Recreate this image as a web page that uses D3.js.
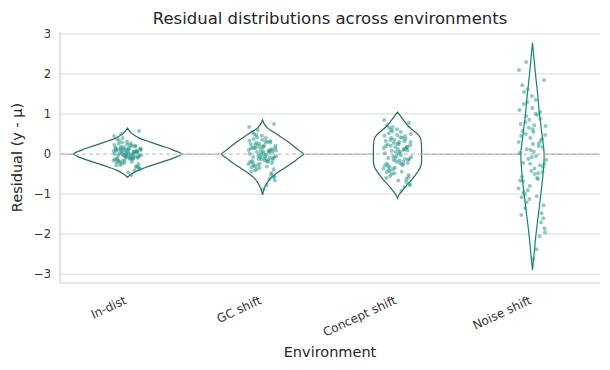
<!DOCTYPE html>
<html>
<head>
<meta charset="utf-8">
<script src="https://cdn.jsdelivr.net/npm/d3@7"></script>
<style>
  body { margin: 0; background: #fff; }
  text { font-family: "DejaVu Sans", sans-serif; }
</style>
</head>
<body>
<svg id="chart" width="610" height="370"></svg>
<script>
// categories + tick labels
const environments = ["In-dist", "GC shift", "Concept shift", "Noise shift"];
const yTicks = [-3, -2, -1, 0, 1, 2, 3];

// violin outlines: residual level -> half density
const violinLevels = {
  "In-dist": [0.65, 0.55, 0.45, 0.4, 0.3, 0.2, 0.1, 0, -0.1, -0.2, -0.3, -0.4, -0.5, -0.58],
  "GC shift": [0.85, 0.75, 0.65, 0.52, 0.4, 0.3, 0.2, 0.1, 0, -0.1, -0.2, -0.3, -0.4, -0.5, -0.6, -0.7, -0.85, -1.02],
  "Concept shift": [1.05, 0.95, 0.85, 0.72, 0.6, 0.5, 0.4, 0.2, 0, -0.2, -0.33, -0.45, -0.55, -0.65, -0.75, -0.9, -1.0, -1.1],
  "Noise shift": [2.78, 2.5, 2.0, 1.5, 1.0, 0.5, 0, -0.5, -1.0, -1.5, -2.0, -2.5, -2.9]
};
const violinDensity = {
  "In-dist": [0, 0.11, 0.30, 0.44, 0.85, 1.28, 1.70, 2.00, 1.70, 1.26, 0.81, 0.41, 0.15, 0],
  "GC shift": [0, 0.07, 0.19, 0.48, 0.74, 0.96, 1.15, 1.33, 1.52, 1.33, 1.15, 0.93, 0.70, 0.48, 0.30, 0.19, 0.07, 0],
  "Concept shift": [0, 0.11, 0.22, 0.37, 0.56, 0.74, 0.85, 0.89, 0.89, 0.89, 0.85, 0.74, 0.63, 0.52, 0.37, 0.19, 0.07, 0],
  "Noise shift": [0, 0.04, 0.11, 0.19, 0.26, 0.35, 0.43, 0.39, 0.31, 0.22, 0.13, 0.06, 0]
};

// residual samples (strip points)
const residInDist = [0.02,-0.05,0.11,-0.14,0.21,-0.22,0.07,-0.01,0.15,-0.09,0.31,-0.28,0.04,-0.17,0.12,-0.06,0.26,-0.33,0.09,0.00,-0.11,0.18,-0.25,0.05,0.38,-0.41,0.13,-0.03,0.22,-0.19,0.08,-0.08,0.16,-0.12,0.29,-0.36,0.01,-0.04,0.19,-0.15,0.45,-0.52,0.10,-0.07,0.24,-0.21,0.06,-0.02,0.14,-0.10,0.34,-0.30,0.03,-0.13,0.20,-0.24,0.58,-0.46,0.11,-0.06,0.17,-0.16,0.27,-0.27,0.03,-0.01,0.09,-0.09,0.40,-0.38,0.15,-0.18,0.07,-0.05,0.23,-0.20,0.50,-0.32,0.12,-0.11,0.04,-0.03,0.10,-0.12,0.02,0.06,-0.07,0.13,-0.02,0.08];
const residGC = [0.05,-0.08,0.18,-0.21,0.33,-0.35,0.10,-0.02,0.24,-0.15,0.46,-0.44,0.07,-0.27,0.15,-0.11,0.38,-0.52,0.13,0.01,-0.18,0.28,-0.38,0.08,0.55,-0.62,0.20,-0.05,0.31,-0.30,0.12,-0.13,0.25,-0.19,0.42,-0.56,0.02,-0.07,0.29,-0.24,0.68,-0.78,0.16,-0.10,0.36,-0.33,0.09,-0.04,0.21,-0.16,0.50,-0.47,0.04,-0.20,0.30,-0.37,0.75,-0.88,0.17,-0.09,0.26,-0.25,0.40,-0.41,0.06,-0.03,0.14,-0.14,0.60,-0.66,0.22,-0.28,0.11,-0.08,0.34,-0.31,0.48,-0.58,0.19,-0.17,0.03,-0.12,0.09,-0.06,0.15,-0.22];
const residConcept = [0.08,-0.12,0.25,-0.30,0.45,-0.48,0.15,-0.03,0.35,-0.22,0.62,-0.60,0.10,-0.38,0.22,-0.16,0.52,-0.70,0.18,0.02,-0.26,0.40,-0.52,0.12,0.72,-0.82,0.28,-0.07,0.42,-0.42,0.17,-0.19,0.33,-0.27,0.57,-0.74,0.03,-0.10,0.38,-0.34,0.85,-0.92,0.21,-0.14,0.48,-0.45,0.13,-0.06,0.30,-0.22,0.66,-0.62,0.05,-0.28,0.41,-0.50,0.78,-0.66,0.24,-0.12,0.36,-0.36,0.55,-0.55,0.09,-0.04,0.20,-0.20,0.68,-0.78,0.30,-0.40,0.14,-0.10,0.46,-0.44,0.60,-0.58,0.26,-0.24,0.32,-0.15,0.50,0.06,-0.32,0.18];
const residNoise = [0.12,-0.25,0.55,-0.68,1.05,-1.12,0.30,-0.05,0.80,-0.45,1.45,-1.52,0.20,-0.90,0.48,-0.36,1.25,-1.70,0.40,0.03,-0.60,0.95,-1.28,0.25,1.72,-2.05,0.66,-0.15,1.00,-1.00,0.38,-0.42,0.75,-0.62,1.30,-1.85,0.06,-0.22,0.88,-0.80,2.10,-2.38,0.50,-0.32,1.15,-1.08,0.28,-0.12,0.70,-0.50,1.55,-1.48,0.10,-0.66,0.98,-1.20,1.85,-2.62,0.58,-0.28,0.86,-0.86,1.35,-1.35,0.18,-0.08,0.45,-0.48,1.62,-1.95,0.72,-0.95,0.34,-0.24,1.10,-1.05,2.30,-1.60,0.62,-0.56];
const residuals = {
  "In-dist": residInDist,
  "GC shift": residGC,
  "Concept shift": residConcept,
  "Noise shift": residNoise
};

const svg = d3.select('#chart');
const margin = { top: 32, right: 10, bottom: 87, left: 60 };
const width = 610, height = 370;
const x0 = margin.left, x1 = width - margin.right;
const yBottom = height - margin.bottom;

const xScale = d3.scaleBand().domain(environments).range([x0, x1]).padding(0);
const yScale = d3.scaleLinear().domain([-3.22, 3.05]).range([yBottom, margin.top]);
const wScale = d3.scaleLinear().domain([0, 2]).range([0, 54]);  // density -> half width px

// grid
svg.append('g').selectAll('line')
  .data(yTicks)
  .enter().append('line')
  .attr('x1', x0 + 1).attr('x2', x1)
  .attr('y1', d => yScale(d)).attr('y2', d => yScale(d))
  .attr('stroke', d => d === 0 ? '#ababab' : '#d8d8d8')
  .attr('stroke-width', 1);

// spines
svg.append('line').attr('x1', x0).attr('x2', x0).attr('y1', margin.top).attr('y2', yBottom)
  .attr('stroke', '#cfcfcf').attr('stroke-width', 1.2);
svg.append('line').attr('x1', x0).attr('x2', x1).attr('y1', yBottom).attr('y2', yBottom)
  .attr('stroke', '#cfcfcf').attr('stroke-width', 1.2);

// y tick labels
svg.append('g').selectAll('text')
  .data(yTicks)
  .enter().append('text')
  .attr('x', 51).attr('y', d => yScale(d))
  .attr('dy', '0.35em')
  .attr('text-anchor', 'end')
  .attr('font-size', 11.5).attr('fill', '#333')
  .text(d => d < 0 ? '\u2212' + Math.abs(d) : d);

// violins
const halfW = xScale.bandwidth() / 2;
environments.forEach(env => {
  const cx = xScale(env) + halfW;
  const pts = violinLevels[env].map((v, i) => ({ v: v, d: violinDensity[env][i] }));
  const area = d3.area()
    .y(p => yScale(p.v))
    .x0(p => cx - wScale(p.d))
    .x1(p => cx + wScale(p.d))
    .curve(d3.curveCatmullRom.alpha(0.5));
  svg.append('path')
    .datum(pts)
    .attr('d', area)
    .attr('fill', '#fff')
    .attr('stroke', env === 'Noise shift' ? '#10896b' : '#2a6a5d')
    .attr('stroke-width', 1.2);
});

// dashed zero line
svg.append('line')
  .attr('x1', x0 + 1).attr('x2', x1)
  .attr('y1', yScale(0)).attr('y2', yScale(0))
  .attr('stroke', '#b5b5b5').attr('stroke-width', 1)
  .attr('stroke-dasharray', '4,3');

// strip points
const jitterPx = 14;
environments.forEach(env => {
  const cx = xScale(env) + halfW;
  svg.append('g').selectAll('circle')
    .data(residuals[env])
    .enter().append('circle')
    .attr('cx', (d, i) => cx + (((i * 0.618034 + 0.3) % 1) - 0.5) * 2 * jitterPx)
    .attr('cy', d => yScale(d))
    .attr('r', 2)
    .attr('fill', '#1f9384')
    .attr('fill-opacity', 0.5);
});

// x tick labels, rotated
svg.append('g').selectAll('text')
  .data(environments)
  .enter().append('text')
  .attr('transform', d => `translate(${xScale(d) + halfW - 4}, ${yBottom + 12}) rotate(-25)`)
  .attr('dy', '0.75em')
  .attr('text-anchor', 'end')
  .attr('font-size', 12).attr('fill', '#333')
  .text(d => d);

// titles
svg.append('text')
  .attr('x', (x0 + x1) / 2).attr('y', 24)
  .attr('text-anchor', 'middle')
  .attr('font-size', 16.5).attr('fill', '#262626')
  .text('Residual distributions across environments');

svg.append('text')
  .attr('x', (x0 + x1) / 2).attr('y', 357)
  .attr('text-anchor', 'middle')
  .attr('font-size', 14.5).attr('fill', '#262626')
  .text('Environment');

svg.append('text')
  .attr('transform', `translate(22, ${(margin.top + yBottom) / 2}) rotate(-90)`)
  .attr('text-anchor', 'middle')
  .attr('font-size', 14.5).attr('fill', '#262626')
  .text('Residual (y - \u03bc)');
</script>
</body>
</html>
